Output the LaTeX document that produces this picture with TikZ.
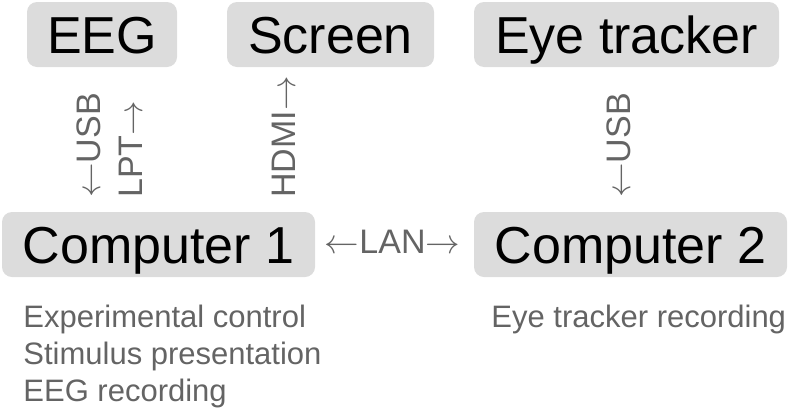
\documentclass[tikz,border=0pt]{standalone}
\usepackage{fontspec}
\setmainfont{Liberation Sans}
\definecolor{boxgray}{RGB}{220,220,220}
\definecolor{labelgray}{RGB}{100,100,100}
\begin{document}
\begin{tikzpicture}[x=0.5pt,y=-0.5pt,
  device/.style={fill=boxgray,rounded corners=5pt,inner sep=0pt,minimum height=32.5pt,
    text height=18.6pt,text depth=0pt,font=\fontsize{26}{30}\selectfont},
  link/.style={text=labelgray,inner sep=0pt,font=\fontsize{17}{20}\selectfont},
  task/.style={text=labelgray,inner sep=0pt,align=left,anchor=north west,
    font=\fontsize{15.5}{18.5}\selectfont}]
\useasboundingbox (0,0) rectangle (790,413);
\node[device,minimum width=75pt] (eeg) at (102,34.5) {EEG};
\node[device,minimum width=103.5pt] (screen) at (330.5,34.5) {Screen};
\node[device,minimum width=152.5pt] (tracker) at (626.5,34.5) {Eye tracker};
\node[device,minimum width=156.5pt] (pc1) at (158.5,244.5) {Computer 1};
\node[device,minimum width=156.5pt] (pc2) at (630.5,244.5) {Computer 2};
\node[link,rotate=90,anchor=base west] (usb1) at (100,198) {$\leftarrow$USB};
\node[link,rotate=90,anchor=base west] (lpt) at (142,198) {LPT$\rightarrow$};
\node[link,rotate=90,anchor=base west] (hdmi) at (295,198) {HDMI$\rightarrow$};
\node[link,rotate=90,anchor=base west] (usb2) at (630,198) {$\leftarrow$USB};
\node[link,anchor=base] (lan) at (392.5,253) {$\leftarrow$LAN$\rightarrow$};
\node[task] (tasks1) at (23,305) {Experimental control\\Stimulus presentation\\EEG recording};
\node[task] (tasks2) at (491,305) {Eye tracker recording};
\end{tikzpicture}
\end{document}
